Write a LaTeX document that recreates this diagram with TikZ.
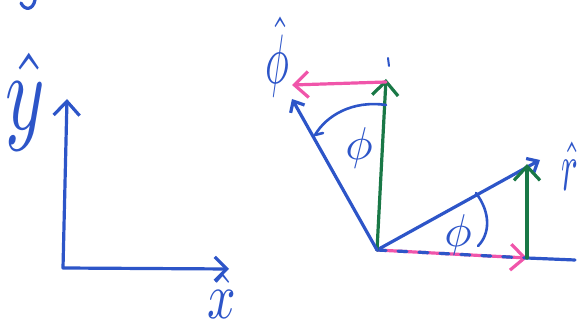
\documentclass[tikz,border=0pt]{standalone}
\usetikzlibrary{arrows.meta}
\definecolor{penblue}{RGB}{45,85,200}
\definecolor{penpink}{RGB}{240,85,170}
\definecolor{pengreen}{RGB}{25,120,70}
\begin{document}
\begin{tikzpicture}[x=1pt,y=-1pt,
  pen/.style={line width=3.2pt, line cap=round, line join=round},
  barb/.style={-{Straight Barb[length=14pt,width=26pt]}},
  smallbarb/.style={-{Straight Barb[length=9pt,width=16pt]}},
  lbl/.style={text=penblue, inner sep=0pt}]
\useasboundingbox (0,0) rectangle (584,328);
% fragment at top left
\draw[pen, penblue] (21,3) .. controls (25,11) and (33,10) .. (35,0);
% left axes
\coordinate (o1) at (63,268);
\coordinate (ytip) at (67,99);
\coordinate (xtip) at (229,269);
\draw[pen, penblue, {Straight Barb[length=14pt,width=26pt]}-{Straight Barb[length=12pt,width=24pt]}] (ytip) -- (o1) -- (xtip);
\node[lbl, xscale=7.5, yscale=11] (ylab) at (25,102) {$\hat{y}$};
\node[lbl, xscale=5, yscale=6.5] (xlab) at (222,296) {$\hat{x}$};
% right diagram
\coordinate (O) at (377,250);
\coordinate (hend) at (527,258);
\coordinate (hfar) at (575,260);
\coordinate (rtip) at (540,160);
\coordinate (gtop) at (527,164);
\coordinate (vtop) at (386,79);
\coordinate (ptip) at (292,99);
\coordinate (pink1) at (386,82);
\coordinate (pink2) at (292,85);
\coordinate (tick1) at (388,58);
\coordinate (tick2) at (389,66);
% horizontal: pink arrow with blue dashes, then blue line
\draw[pen, penpink, barb] (O) -- (hend);
\draw[pen, penblue, dash pattern=on 9pt off 12pt] (O) -- (hend);
\draw[pen, penblue] (hend) -- (hfar);
% r hat vector
\draw[pen, penblue, smallbarb] (O) -- (rtip);
% green arrows
\draw[pen, pengreen, barb] (hend) -- (gtop);
\draw[pen, pengreen, barb] (O) -- (vtop);
\draw[pen, penblue, line width=2pt] (tick1) -- (tick2);
% phi hat vector
\draw[pen, penblue, smallbarb] (O) -- (ptip);
% pink arrow
\draw[pen, penpink, barb] (pink1) -- (pink2);
% angle arcs
\draw[pen, penblue, line width=2.6pt] (386,105) .. controls (352,100) and (326,116) .. (315,135);
\draw[pen, penblue, line width=2.6pt] (315,135) -- (323,133);
\draw[pen, penblue, line width=2.6pt] (476,193) .. controls (491,213) and (490,234) .. (478,246);
% labels
\node[lbl, xscale=4, yscale=7] (philab) at (277,57) {$\hat{\phi}$};
\node[lbl, xscale=3.5, yscale=7] (rlab) at (570,166) {$\hat{r}$};
\node[lbl, scale=4.6] (phi1) at (359,148) {$\phi$};
\node[lbl, scale=4.6] (phi2) at (458,235) {$\phi$};
\end{tikzpicture}
\end{document}
